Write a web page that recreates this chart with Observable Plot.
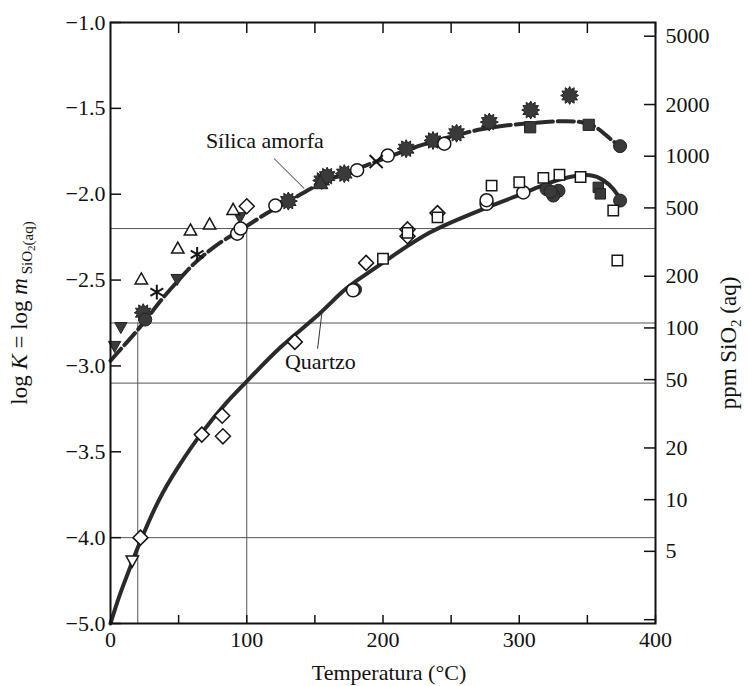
<!DOCTYPE html>
<html><head><meta charset="utf-8">
<script src="https://cdn.jsdelivr.net/npm/d3@7"></script>
<script src="https://cdn.jsdelivr.net/npm/@observablehq/plot@0.6"></script>
<style>body{margin:0;background:#fff}#chart{width:749px;height:686px}</style>
</head><body><div id="chart"></div>
<script>
// ---------- data ----------
const xTicks = [0, 100, 200, 300, 400];
const xMinorTicks = [50, 100, 150, 200, 250, 300, 350, 400];
const yTickValues = [-1.0, -1.5, -2.0, -2.5, -3.0, -3.5, -4.0, -4.5];
const yTickLabels = ["−1.0", "−1.5", "−2.0", "−2.5", "−3.0", "−3.5", "−4.0", "−5.0"];
const ppmTicks = [5000, 2000, 1000, 500, 200, 100, 50, 20, 10, 5, 2];
const ppmLabels = ["5000", "2000", "1000", "500", "200", "100", "50", "20", "10", "5", ""];
const SIO2_G_PER_MOL = 60.08;

// fitted curves (temperature °C, log K)
const amorphT = [0, 10, 20, 30, 40, 50, 60, 70, 80, 90, 100, 115, 130, 150, 170, 190, 210, 230, 250, 270, 290, 310, 330, 345, 355, 362, 368, 376];
const amorphK = [-2.97, -2.88, -2.79, -2.69, -2.59, -2.50, -2.415, -2.345, -2.285, -2.235, -2.185, -2.11, -2.045, -1.955, -1.885, -1.825, -1.765, -1.71, -1.665, -1.625, -1.60, -1.585, -1.575, -1.58, -1.605, -1.645, -1.685, -1.73];
const quartzT = [0, 5, 10, 16, 22, 35, 50, 67, 85, 100, 125, 150, 170, 185, 207, 234, 260, 285, 303, 320, 337, 352, 362, 369, 375];
const quartzK = [-4.50, -4.375, -4.265, -4.14, -4.02, -3.79, -3.585, -3.39, -3.215, -3.09, -2.89, -2.72, -2.57, -2.48, -2.36, -2.225, -2.13, -2.05, -1.995, -1.94, -1.90, -1.89, -1.92, -1.97, -2.04];

// reference lines
const hRefK = [-2.2, -2.75, -3.1, -4.0];
const vRefT = [20, 100];
const vRefTopK = [-2.75, -2.2];

// experimental points, amorphous silica [T, logK]
const aOpenTriangle = [[22.6, -2.50], [49.4, -2.32], [58.7, -2.215], [72.7, -2.18], [90, -2.095]];
const aFilledInvTri = [[3, -2.88], [7.6, -2.77], [48.9, -2.49], [95, -2.13]];
const aAsterisk = [[34, -2.57], [63.6, -2.35]];
const aFilledCircle = [[25.5, -2.73], [374, -1.72]];
const aSun = [[24, -2.69], [130.5, -2.04], [155, -1.92], [159, -1.895], [171.6, -1.88], [217, -1.735], [236.7, -1.687], [254, -1.645], [278, -1.58], [308.4, -1.51], [337, -1.425]];
const aFilledTriangle = [[154, -1.94]];
const aOpenCircle = [[93, -2.23], [95.5, -2.20], [121, -2.066], [181, -1.86], [203.5, -1.775], [245, -1.706]];
const aCross = [[195, -1.81]];
const aOpenDiamond = [[100, -2.07]];
const aFilledSquare = [[308, -1.61], [351, -1.596]];

// experimental points, quartz [T, logK]
const qOpenDiamond = [[22, -4.0], [67, -3.40], [82, -3.29], [82.5, -3.41], [135.3, -2.86], [187.6, -2.40], [218, -2.205], [218, -2.245], [240, -2.11]];
const qOpenInvTri = [[16, -4.13]];
const qOpenSquare = [[200, -2.376], [218, -2.225], [240, -2.135], [279.7, -1.95], [300, -1.93], [317.7, -1.905], [329.5, -1.887], [345, -1.90], [369, -2.095], [372, -2.386]];
const qOpenCircle = [[178, -2.56], [276, -2.056], [276, -2.035], [303, -1.99]];
const qFilledCircle = [[179.5, -2.555], [320, -1.97], [328.8, -1.98], [325, -2.008], [323, -1.985], [374, -2.037]];
const qFilledSquare = [[358, -1.96], [359.5, -1.998]];

// curve labels
const labels = [
  {T: 70, K: -1.687, text: "Sílica amorfa"},
  {T: 128, K: -2.978, text: "Quartzo"}
];
const leaders = [
  {T1: 120, K1: -1.792, T2: 142.2, K2: -1.967},
  {T1: 152, K1: -2.90, T2: 155.2, K2: -2.687}
];

// ---------- build ----------
const W = 749, H = 686;
const mL = 110, mR = 94, mT = 22, mB = 63;
const plotW = W - mL - mR, plotH = H - mT - mB;
const fam = "Liberation Serif, DejaVu Serif, serif";
const toLogK = ppm => Math.log10(ppm / 1000 / SIO2_G_PER_MOL);
const ppmK = ppmTicks.map(toLogK);

const amorph = amorphT.map((T, i) => ({T, K: amorphK[i]}));
const quartz = quartzT.map((T, i) => ({T, K: quartzK[i]}));
const vRef = vRefT.map((T, i) => ({T, K: vRefTopK[i]}));
const pts = a => a.map(([T, K]) => ({T, K}));

function poly(points) {
  return {draw(ctx, size) {
    const r = Math.sqrt(size / Math.PI);
    points.forEach(([a, b], i) => i ? ctx.lineTo(a * r, b * r) : ctx.moveTo(a * r, b * r));
    ctx.closePath();
  }};
}
const triUp = poly([[0, -1.1], [0.95, 0.6], [-0.95, 0.6]]);
const triDown = poly([[0, 1.1], [0.95, -0.6], [-0.95, -0.6]]);
const diamond = poly([[0, -1], [1, 0], [0, 1], [-1, 0]]);
const square = poly([[-0.8, -0.8], [0.8, -0.8], [0.8, 0.8], [-0.8, 0.8]]);
const sun = {draw(ctx, size) {
  const r = Math.sqrt(size / Math.PI);
  for (let i = 0; i < 24; i++) {
    const a = i * Math.PI / 12, rr = i % 2 ? r * 0.68 : r;
    const x = rr * Math.cos(a), y = rr * Math.sin(a);
    i ? ctx.lineTo(x, y) : ctx.moveTo(x, y);
  }
  ctx.closePath();
}};

const DARK = "#3a3a3a", INK = "#161616";
function openDots(arr, symbol, r) {
  return Plot.dot(pts(arr), {x: "T", y: "K", symbol, r, fill: "white", stroke: INK, strokeWidth: 1.5});
}
function filledDots(arr, symbol, r) {
  return Plot.dot(pts(arr), {x: "T", y: "K", symbol, r, fill: DARK, stroke: "#222", strokeWidth: 1});
}

const chart = Plot.plot({
  width: W, height: H,
  marginLeft: mL, marginRight: mR, marginTop: mT, marginBottom: mB,
  x: {domain: [0, 400]},
  y: {domain: [-4.5, -1]},
  style: {fontFamily: fam, fontSize: "22px", color: "#111", background: "white"},
  marks: [
    Plot.ruleY(hRefK, {stroke: "#555", strokeWidth: 1}),
    Plot.ruleX(vRef, {x: "T", y1: "K", y2: -4.5, stroke: "#555", strokeWidth: 1}),
    Plot.line(quartz, {x: "T", y: "K", curve: "natural", stroke: "#2a2a2a", strokeWidth: 4}),
    Plot.line(amorph, {x: "T", y: "K", curve: "natural", stroke: "#2a2a2a", strokeWidth: 4, strokeDasharray: "16,5"}),
    // amorphous silica points
    filledDots(aFilledInvTri, triDown, 6.5),
    openDots(aOpenTriangle, triUp, 6.5),
    Plot.dot(pts(aAsterisk), {x: "T", y: "K", symbol: "asterisk", r: 7, stroke: INK, strokeWidth: 2}),
    filledDots(aSun, sun, 9),
    filledDots(aFilledTriangle, triUp, 8),
    filledDots(aFilledCircle, "circle", 6.5),
    openDots(aOpenCircle, "circle", 6.5),
    Plot.dot(pts(aCross), {x: "T", y: "K", symbol: "times", r: 6, stroke: INK, strokeWidth: 2}),
    openDots(aOpenDiamond, diamond, 7.5),
    filledDots(aFilledSquare, square, 7),
    // quartz points
    openDots(qOpenInvTri, triDown, 6.5),
    openDots(qOpenDiamond, diamond, 7.5),
    filledDots(qFilledCircle, "circle", 6.5),
    openDots(qOpenCircle, "circle", 6.5),
    openDots(qOpenSquare, square, 6.5),
    filledDots(qFilledSquare, square, 6.5),
    // labels
    Plot.link(leaders, {x1: "T1", y1: "K1", x2: "T2", y2: "K2", stroke: "#333", strokeWidth: 1}),
    Plot.text(labels, {x: "T", y: "K", text: "text", textAnchor: "start", fontSize: 22, fontFamily: fam, fill: "#111"}),
    // ticks (inward)
    Plot.ruleX(xMinorTicks, {insetTop: plotH - 8, stroke: "#111", strokeWidth: 1.5}),
    Plot.ruleX(xMinorTicks, {insetBottom: plotH - 11, stroke: "#111", strokeWidth: 1.5}),
    Plot.ruleY(yTickValues, {insetRight: plotW - 11, stroke: "#111", strokeWidth: 1.5}),
    Plot.ruleY(ppmK, {insetLeft: plotW - 11, stroke: "#111", strokeWidth: 1.5}),
    // axis labels
    Plot.axisX({ticks: xTicks, anchor: "bottom", tickSize: 0, tickPadding: 8, tickFormat: d => String(d), label: null, fontSize: 22, fontFamily: fam, fontVariant: "normal"}),
    Plot.axisY({ticks: yTickValues, anchor: "left", tickSize: 0, tickPadding: 5, tickFormat: d => yTickLabels[yTickValues.indexOf(d)], label: null, fontSize: 22, fontFamily: fam, fontVariant: "normal"}),
    Plot.axisY({ticks: ppmK, anchor: "right", tickSize: 0, tickPadding: 10, tickFormat: d => ppmLabels[ppmK.indexOf(d)], label: null, fontSize: 22, fontFamily: fam, fontVariant: "normal"}),
    Plot.frame({stroke: "#111", strokeWidth: 2})
  ]
});

const svg = d3.select(chart);
// bottom title
svg.append("text").attr("x", 389).attr("y", 680).attr("text-anchor", "middle")
  .attr("font-family", fam).attr("font-size", 22).attr("fill", "#111").text("Temperatura (°C)");
// left title
const lt = svg.append("text").attr("transform", "translate(27,313) rotate(-90)").attr("text-anchor", "middle")
  .attr("font-family", fam).attr("font-size", 23).attr("fill", "#111");
lt.append("tspan").text("log ");
lt.append("tspan").attr("font-style", "italic").text("K");
lt.append("tspan").text(" = log ");
lt.append("tspan").attr("font-style", "italic").text("m");
lt.append("tspan").attr("font-size", 15).attr("dy", 5).text(" SiO");
lt.append("tspan").attr("font-size", 11).attr("dy", 3).text("2");
lt.append("tspan").attr("font-size", 15).attr("dy", -2).text("(aq)");
// right title
const rt = svg.append("text").attr("transform", "translate(736,343) rotate(-90)").attr("text-anchor", "middle")
  .attr("font-family", fam).attr("font-size", 23).attr("fill", "#111");
rt.append("tspan").text("ppm SiO");
rt.append("tspan").attr("font-size", 15).attr("dy", 5).text("2");
rt.append("tspan").attr("dy", -5).text(" (aq)");

document.getElementById("chart").append(chart);
</script>
</body></html>
